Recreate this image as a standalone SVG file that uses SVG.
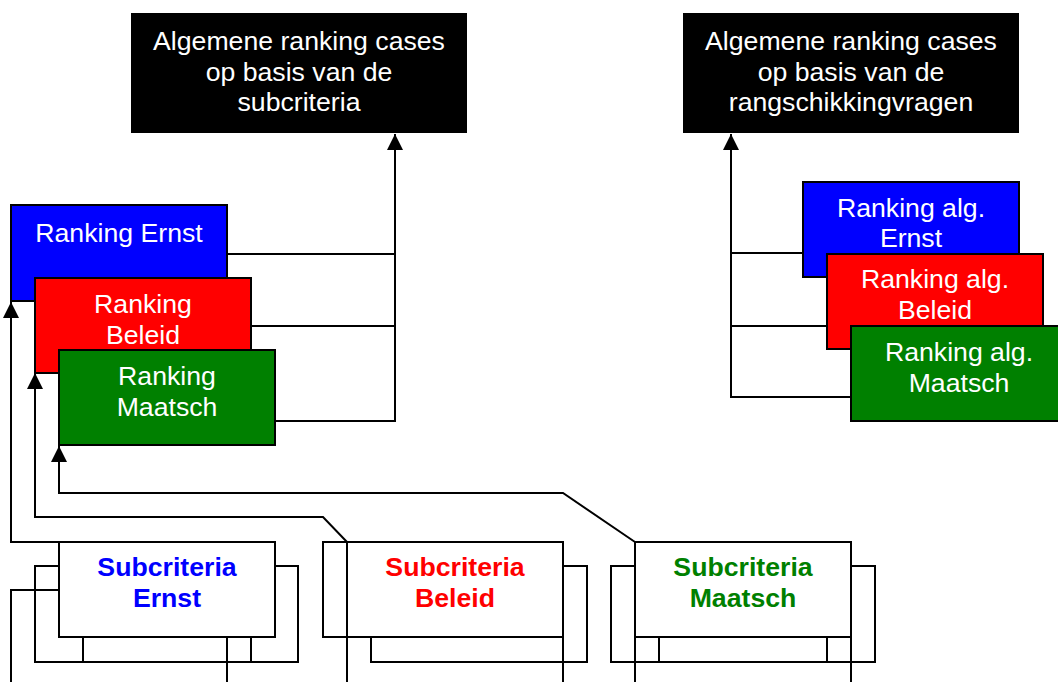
<svg xmlns="http://www.w3.org/2000/svg" width="1058" height="682" viewBox="0 0 1058 682">
<style>
  .t { font-family: "Liberation Sans", Arial, sans-serif; font-size: 26.67px; text-anchor: middle; }
  .w { fill: #ffffff; }
  .b { font-weight: bold; }
  .ln { fill: none; stroke: #000; stroke-width: 2; }
  .box { stroke: #000; stroke-width: 2; }
  .ghost { fill: none; stroke: #000; stroke-width: 2; }
</style>
<defs>
  <marker id="arr" viewBox="0 0 16 16" refX="16" refY="8" markerWidth="16" markerHeight="16" markerUnits="userSpaceOnUse" orient="auto">
    <path d="M0,0 L16,8 L0,16 Z" fill="#000"/>
  </marker>
</defs>
<rect width="1058" height="682" fill="#fff"/>

<g id="connectors">
  <path class="ln" d="M228,254 H395"/>
  <path class="ln" d="M251,326 H395"/>
  <path class="ln" d="M275,421 H395 V134" marker-end="url(#arr)"/>
  <path class="ln" d="M803,253 H731"/>
  <path class="ln" d="M827,326 H731"/>
  <path class="ln" d="M851,397 H731 V134" marker-end="url(#arr)"/>
  <path class="ln" d="M59,542 H11 V302" marker-end="url(#arr)"/>
  <path class="ln" d="M347,542 L323,517 H35 V373" marker-end="url(#arr)"/>
  <path class="ln" d="M635,542 L563,493 H59 V446" marker-end="url(#arr)"/>
  <path class="ln" d="M59,590 H11 V682"/>
  <path class="ln" d="M227,637 V682"/>
  <path class="ln" d="M347,542 V682"/>
  <path class="ln" d="M563,637 V682"/>
  <path class="ln" d="M635,637 V682"/>
  <path class="ln" d="M851,637 V682"/>
</g>

<g id="cases-subcriteria">
  <rect x="131" y="13" width="336" height="120" fill="#000"/>
  <text class="t w" x="299" y="50">Algemene ranking cases</text>
  <text class="t w" x="299" y="81">op basis van de</text>
  <text class="t w" x="299" y="111">subcriteria</text>
</g>

<g id="cases-rangschikking">
  <rect x="683" y="13" width="336" height="120" fill="#000"/>
  <text class="t w" x="851" y="50">Algemene ranking cases</text>
  <text class="t w" x="851" y="81">op basis van de</text>
  <text class="t w" x="851" y="111">rangschikkingvragen</text>
</g>

<g id="ranking-ernst">
  <rect class="box" x="11" y="205" width="216" height="96" fill="#0000ff"/>
  <text class="t w" x="119" y="242">Ranking Ernst</text>
</g>
<g id="ranking-beleid">
  <rect class="box" x="35" y="278" width="216" height="95" fill="#ff0000"/>
  <text class="t w" x="143" y="313">Ranking</text>
  <text class="t w" x="143" y="344">Beleid</text>
</g>
<g id="ranking-maatsch">
  <rect class="box" x="59" y="350" width="216" height="95" fill="#008000"/>
  <text class="t w" x="167" y="385">Ranking</text>
  <text class="t w" x="167" y="416">Maatsch</text>
</g>

<g id="ranking-alg-ernst">
  <rect class="box" x="803" y="182" width="216" height="95" fill="#0000ff"/>
  <text class="t w" x="911" y="217">Ranking alg.</text>
  <text class="t w" x="911" y="247">Ernst</text>
</g>
<g id="ranking-alg-beleid">
  <rect class="box" x="827" y="254" width="216" height="95" fill="#ff0000"/>
  <text class="t w" x="935" y="288">Ranking alg.</text>
  <text class="t w" x="935" y="319">Beleid</text>
</g>
<g id="ranking-alg-maatsch">
  <rect class="box" x="851" y="326" width="216" height="95" fill="#008000"/>
  <text class="t w" x="959" y="361">Ranking alg.</text>
  <text class="t w" x="959" y="392">Maatsch</text>
</g>

<g id="subcriteria-ernst">
  <rect class="ghost" x="35" y="566" width="216" height="96"/>
  <rect class="ghost" x="83" y="566" width="215" height="96"/>
  <rect class="box" x="59" y="542" width="216" height="95" fill="#fff"/>
  <text class="t b" x="167" y="576" fill="#0000ff">Subcriteria</text>
  <text class="t b" x="167" y="607" fill="#0000ff">Ernst</text>
</g>
<g id="subcriteria-beleid">
  <rect class="ghost" x="323" y="542" width="216" height="95"/>
  <rect class="ghost" x="371" y="566" width="216" height="96"/>
  <rect class="box" x="347" y="542" width="216" height="95" fill="#fff"/>
  <text class="t b" x="455" y="576" fill="#ff0000">Subcriteria</text>
  <text class="t b" x="455" y="607" fill="#ff0000">Beleid</text>
</g>
<g id="subcriteria-maatsch">
  <rect class="ghost" x="611" y="566" width="216" height="96"/>
  <rect class="ghost" x="659" y="566" width="216" height="96"/>
  <rect class="box" x="635" y="542" width="216" height="95" fill="#fff"/>
  <text class="t b" x="743" y="576" fill="#008000">Subcriteria</text>
  <text class="t b" x="743" y="607" fill="#008000">Maatsch</text>
</g>
</svg>
